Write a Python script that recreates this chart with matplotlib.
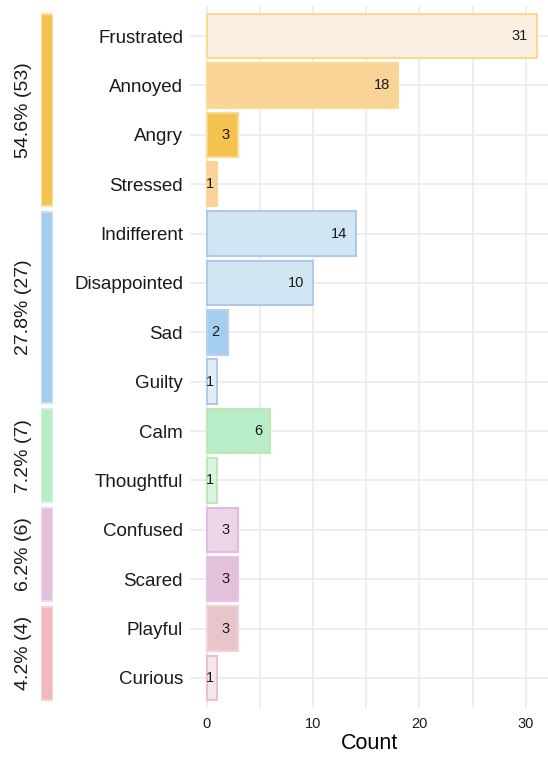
import numpy as np
import matplotlib
matplotlib.use("Agg")
import matplotlib.pyplot as plt
from matplotlib.transforms import blended_transform_factory

plt.rcParams['font.family'] = ['Liberation Sans', 'DejaVu Sans']

#--- Data ---#
emotions = ["Frustrated", "Annoyed", "Angry", "Stressed",
            "Indifferent", "Disappointed", "Sad", "Guilty",
            "Calm", "Thoughtful",
            "Confused", "Scared",
            "Playful", "Curious"]
counts = [31, 18, 3, 1,
          14, 10, 2, 1,
          6, 1,
          3, 3,
          3, 1]

group_sizes = [4, 4, 2, 2, 2]          # number of emotions in each group
group_pct = [54.6, 27.8, 7.2, 6.2, 4.2]

# bar fill / edge colours
bar_fill = ["#FAF0E2", "#F8D496", "#F4C24E", "#F9D496",
            "#D0E6F3", "#D0E6F3", "#A5CDF0", "#E3EDF7",
            "#B8EDC8", "#D8F5E0",
            "#EDD5E8", "#E3C0DC",
            "#E8C5CA", "#F4E8EA"]
bar_edge = ["#FCD98C", "#FBDA90", "#FCD98C", "#F9D496",
            "#B2C8E8", "#B2C8E8", "#B8D0EC", "#B2C8E8",
            "#C5E5B5", "#BFE6B8",
            "#DDBDE0", "#E0C5E5",
            "#F5D0DC", "#EDC0C8"]
group_fill = ["#F4C24E", "#A5CDF0", "#B8EDC8", "#E3C0DC", "#F0B9BE"]
group_edge = ["#FCE0A0", "#C8E0F6", "#D2F4DC", "#EEDAEC", "#F6D2D6"]

#--- Figure layout ---#
W, H = 548, 757
fig = plt.figure(figsize=(W / 100, H / 100), dpi=100)

ax_left, ax_right = 190 / W, 548 / W
ax_bottom, ax_top = 1 - 707.6 / H, 1 - 6.4 / H
ax = fig.add_axes([ax_left, ax_bottom, ax_right - ax_left, ax_top - ax_bottom])

n = len(emotions)
y = np.arange(n)

ax.barh(y, counts, height=0.9, color=bar_fill, edgecolor=bar_edge,
        linewidth=1.5, zorder=2)

for yi, v in zip(y, counts):
    ax.text(max(v - 0.8, 0.75), yi, str(v), ha='right', va='center',
            fontsize=10.5, color='#1a1a1a', zorder=3)

ax.set_xlim(-1.55, 32.07)
ax.set_ylim(n - 0.4, -0.6)
ax.set_yticks(y)
ax.set_yticklabels(emotions, fontsize=13.5)
ax.set_xticks([0, 10, 20, 30])
ax.set_xticks([5, 15, 25], minor=True)
ax.tick_params(axis='both', which='both', length=0, colors='#1a1a1a')
ax.tick_params(axis='x', labelsize=10.5, pad=7)
ax.tick_params(axis='y', pad=5)
ax.grid(True, which='both', color='#EBEBEB', linewidth=1.2, zorder=0)
ax.set_axisbelow(True)
for s in ax.spines.values():
    s.set_visible(False)
ax.set_xlabel("Count", fontsize=15.5, labelpad=1)

#--- Group bars on the left ---#
gx_left, gx_right = 41 / W, 53 / W
gax = fig.add_axes([gx_left, ax_bottom, gx_right - gx_left, ax_top - ax_bottom])
gax.set_ylim(n - 0.4, -0.6)
gax.set_xlim(0, 1)
gax.axis('off')

trans = blended_transform_factory(fig.transFigure, gax.transData)
start = 0
for size, pct, fc, ec in zip(group_sizes, group_pct, group_fill, group_edge):
    total = sum(counts[start:start + size])
    top = start - 0.44
    bot = start + size - 1 + 0.44
    gax.barh((top + bot) / 2, 1, height=bot - top, left=0,
             color=fc, edgecolor=ec, linewidth=1.5)
    fig.text(24 / W, (top + bot) / 2, f"{pct}% ({total})", transform=trans,
             rotation=90, ha='center', va='center', fontsize=14, color='#1a1a1a')
    start += size

fig.savefig("out.png", dpi=100)
